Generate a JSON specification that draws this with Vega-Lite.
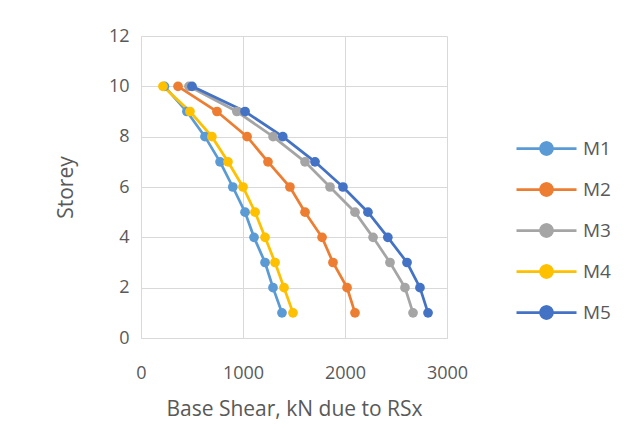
{
  "$schema": "https://vega.github.io/schema/vega-lite/v6.json",
  "autosize": "none",
  "width": 306,
  "height": 302,
  "padding": {"left": 141, "top": 36, "right": 183, "bottom": 110},
  "background": "white",
  "config": {
    "view": {"stroke": null},
    "font": "Open Sans",
    "axis": {"labelColor": "#595959", "titleColor": "#595959", "labelFont": "Open Sans", "titleFont": "Open Sans", "gridColor": "#d9d9d9", "domainColor": "#d9d9d9", "tickSize": 0, "labelFontSize": 18, "titleFontSize": 21, "titleFontWeight": "normal", "labelFlush": false}
  },
  "data": {"values": [
    {"model": "M1", "storey": 10, "shear": 230},
    {"model": "M1", "storey": 9, "shear": 450},
    {"model": "M1", "storey": 8, "shear": 627},
    {"model": "M1", "storey": 7, "shear": 775},
    {"model": "M1", "storey": 6, "shear": 900},
    {"model": "M1", "storey": 5, "shear": 1020},
    {"model": "M1", "storey": 4, "shear": 1108},
    {"model": "M1", "storey": 3, "shear": 1216},
    {"model": "M1", "storey": 2, "shear": 1294},
    {"model": "M1", "storey": 1, "shear": 1382},
    {"model": "M2", "storey": 10, "shear": 363},
    {"model": "M2", "storey": 9, "shear": 745},
    {"model": "M2", "storey": 8, "shear": 1040},
    {"model": "M2", "storey": 7, "shear": 1245},
    {"model": "M2", "storey": 6, "shear": 1460},
    {"model": "M2", "storey": 5, "shear": 1608},
    {"model": "M2", "storey": 4, "shear": 1775},
    {"model": "M2", "storey": 3, "shear": 1882},
    {"model": "M2", "storey": 2, "shear": 2020},
    {"model": "M2", "storey": 1, "shear": 2098},
    {"model": "M3", "storey": 10, "shear": 470},
    {"model": "M3", "storey": 9, "shear": 940},
    {"model": "M3", "storey": 8, "shear": 1295},
    {"model": "M3", "storey": 7, "shear": 1608},
    {"model": "M3", "storey": 6, "shear": 1853},
    {"model": "M3", "storey": 5, "shear": 2098},
    {"model": "M3", "storey": 4, "shear": 2275},
    {"model": "M3", "storey": 3, "shear": 2441},
    {"model": "M3", "storey": 2, "shear": 2588},
    {"model": "M3", "storey": 1, "shear": 2667},
    {"model": "M4", "storey": 10, "shear": 215},
    {"model": "M4", "storey": 9, "shear": 480},
    {"model": "M4", "storey": 8, "shear": 695},
    {"model": "M4", "storey": 7, "shear": 853},
    {"model": "M4", "storey": 6, "shear": 1000},
    {"model": "M4", "storey": 5, "shear": 1118},
    {"model": "M4", "storey": 4, "shear": 1216},
    {"model": "M4", "storey": 3, "shear": 1314},
    {"model": "M4", "storey": 2, "shear": 1402},
    {"model": "M4", "storey": 1, "shear": 1490},
    {"model": "M5", "storey": 10, "shear": 500},
    {"model": "M5", "storey": 9, "shear": 1020},
    {"model": "M5", "storey": 8, "shear": 1390},
    {"model": "M5", "storey": 7, "shear": 1706},
    {"model": "M5", "storey": 6, "shear": 1980},
    {"model": "M5", "storey": 5, "shear": 2225},
    {"model": "M5", "storey": 4, "shear": 2420},
    {"model": "M5", "storey": 3, "shear": 2608},
    {"model": "M5", "storey": 2, "shear": 2735},
    {"model": "M5", "storey": 1, "shear": 2814}
  ]},
  "mark": {"type": "line", "strokeWidth": 2.75, "point": {"size": 95, "filled": true, "opacity": 1}},
  "encoding": {
    "x": {"field": "shear", "type": "quantitative", "scale": {"domain": [0, 3000]},
      "axis": {"values": [0, 1000, 2000, 3000], "format": "d", "title": "Base Shear, kN due to RSx", "labelPadding": 26, "titlePadding": 16, "domain": true}},
    "y": {"field": "storey", "type": "quantitative", "scale": {"domain": [0, 12]},
      "axis": {"values": [0, 2, 4, 6, 8, 10, 12], "title": "Storey", "labelPadding": 12, "titlePadding": 32, "domain": true}},
    "order": {"field": "storey", "type": "quantitative"},
    "color": {"field": "model", "type": "nominal",
      "scale": {"domain": ["M1", "M2", "M3", "M4", "M5"], "range": ["#5B9BD5", "#ED7D31", "#A5A5A5", "#FFC000", "#4472C4"]},
      "legend": {"title": null, "orient": "none", "legendX": 394, "legendY": 101,
        "symbolType": "M -3 0 L 3 0 M 0.6 0 L 0.554 0.23 L 0.424 0.424 L 0.23 0.554 L 0 0.6 L -0.23 0.554 L -0.424 0.424 L -0.554 0.23 L -0.6 0 L -0.554 -0.23 L -0.424 -0.424 L -0.23 -0.554 L 0 -0.6 L 0.23 -0.554 L 0.424 -0.424 L 0.554 -0.23 Z",
        "symbolSize": 400, "symbolStrokeWidth": 2.75, "labelFontSize": 19, "labelColor": "#595959", "labelFont": "Open Sans", "rowPadding": 18, "labelOffset": 25}}
  }
}
